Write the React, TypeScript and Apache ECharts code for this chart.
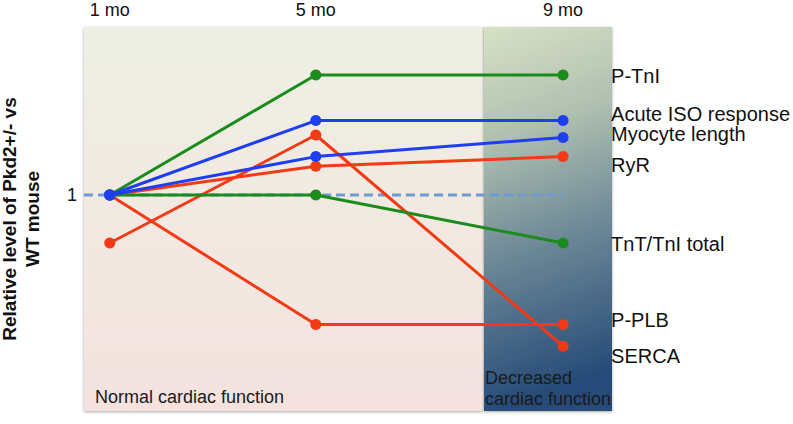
import React, { useEffect, useRef } from "react";
import * as echarts from "echarts";

// time points (months) – the slide spaces 9 mo slightly wider than to scale
const monthLabels = ["1 mo", "5 mo", "9 mo"];
const monthPos = [1, 5, 9.8];

const seriesNames = [
  "P-PLB",
  "SERCA",
  "RyR",
  "TnT/TnI total",
  "P-TnI",
  "Myocyte length",
  "Acute ISO response",
];
const pPLB = [1, 0.46, 0.46];
const serca = [0.8, 1.25, 0.37];
const ryr = [1, 1.12, 1.16];
const tntTni = [1, 1, 0.8];
const pTnI = [1, 1.5, 1.5];
const myocyte = [1, 1.16, 1.24];
const acuteIso = [1, 1.31, 1.31];
const seriesValues = [pPLB, serca, ryr, tntTni, pTnI, myocyte, acuteIso];

const baseline = 1;
const yTicks = [1];

// styling
const RED = "#f43a14";
const GREEN = "#1a8c1c";
const BLUE = "#1f3ef2";
const seriesColors = [RED, RED, RED, GREEN, GREEN, BLUE, BLUE];
const labelOffsets = [-5, 10, 8, 1, 1, -3, -7];

const FONT = "'Liberation Sans', Arial, Helvetica, sans-serif";

export default function App() {
  const ref = useRef<HTMLDivElement>(null);
  useEffect(() => {
    document.body.style.margin = "0";
    if (!ref.current) return;
    const chart = echarts.init(ref.current, null, { renderer: "svg" });
    const lineSeries = seriesNames.map((name, i) => ({
      name,
      type: "line",
      data: seriesValues[i].map((v, j) => [monthPos[j], v]),
      symbol: "circle",
      symbolSize: 11,
      color: seriesColors[i],
      lineStyle: { width: 3, color: seriesColors[i] },
      itemStyle: { color: seriesColors[i] },
      z: 3 + i,
      endLabel: {
        show: true,
        formatter: "{a}",
        distance: 48,
        offset: [0, labelOffsets[i]],
        color: "#111",
        fontSize: 20,
        fontFamily: FONT,
      },
    }));
    chart.setOption({
      animation: false,
      textStyle: { fontFamily: FONT },
      grid: {
        left: 84,
        right: 181,
        top: 27,
        bottom: 13,
        containLabel: false,
        outerBoundsMode: "none",
      },
      xAxis: {
        type: "value",
        position: "top",
        min: 0.5,
        max: 10.75,
        axisLine: { show: false },
        axisTick: { show: false },
        splitLine: { show: false },
        axisLabel: {
          customValues: monthPos,
          formatter: (v: number) => {
            const idx = monthPos.findIndex((p) => Math.abs(p - v) < 1e-6);
            return idx >= 0 ? monthLabels[idx] : "";
          },
          fontSize: 18,
          color: "#111",
          margin: 8,
          fontFamily: FONT,
        },
      },
      yAxis: {
        type: "value",
        min: 0.1,
        max: 1.7,
        axisLine: { show: false },
        axisTick: { show: false },
        splitLine: { show: false },
        axisLabel: {
          customValues: yTicks,
          fontSize: 18,
          color: "#111",
          margin: 7,
          fontFamily: FONT,
        },
        name: "Relative level of Pkd2+/- vs\nWT mouse",
        nameLocation: "middle",
        nameGap: 40,
        nameRotate: 90,
        nameTextStyle: {
          fontSize: 19,
          fontWeight: "bold",
          color: "#111",
          lineHeight: 23,
          fontFamily: FONT,
        },
      },
      graphic: [
        {
          type: "rect",
          z: -10,
          shape: { x: 84, y: 27, width: 399, height: 384 },
          style: {
            fill: new echarts.graphic.LinearGradient(0, 0, 0, 1, [
              { offset: 0, color: "#eef0e4" },
              { offset: 1, color: "#f4e2df" },
            ]),
            shadowColor: "rgba(0,0,0,0.35)",
            shadowBlur: 3,
            shadowOffsetY: 1,
          },
        },
        {
          type: "rect",
          z: -10,
          shape: { x: 484, y: 27, width: 128, height: 384 },
          style: {
            fill: new echarts.graphic.LinearGradient(0, 0, 0.12, 1, [
              { offset: 0, color: "#d7e1c6" },
              { offset: 0.3, color: "#b0c0b0" },
              { offset: 0.6, color: "#6f8a98" },
              { offset: 1, color: "#254b78" },
            ]),
            shadowColor: "rgba(0,0,0,0.35)",
            shadowBlur: 3,
            shadowOffsetY: 1,
          },
        },
        {
          type: "text",
          z: -5,
          x: 95,
          y: 397,
          style: {
            text: "Normal cardiac function",
            fontSize: 18,
            fontFamily: FONT,
            fill: "#1a1a1a",
            verticalAlign: "middle",
          },
        },
        {
          type: "text",
          z: -5,
          x: 485,
          y: 388,
          style: {
            text: "Decreased\ncardiac function",
            fontSize: 18,
            lineHeight: 21,
            fontFamily: FONT,
            fill: "#1a1a1a",
            verticalAlign: "middle",
          },
        },
      ],
      series: [
        {
          name: "baseline",
          type: "line",
          data: [
            [0.5, baseline],
            [monthPos[2], baseline],
          ],
          symbol: "none",
          silent: true,
          z: 2,
          lineStyle: { width: 3, color: "#6c9bd4", type: [9, 5] },
        },
        ...lineSeries,
      ],
    });
    return () => chart.dispose();
  }, []);
  return <div ref={ref} style={{ width: 793, height: 424 }} />;
}
